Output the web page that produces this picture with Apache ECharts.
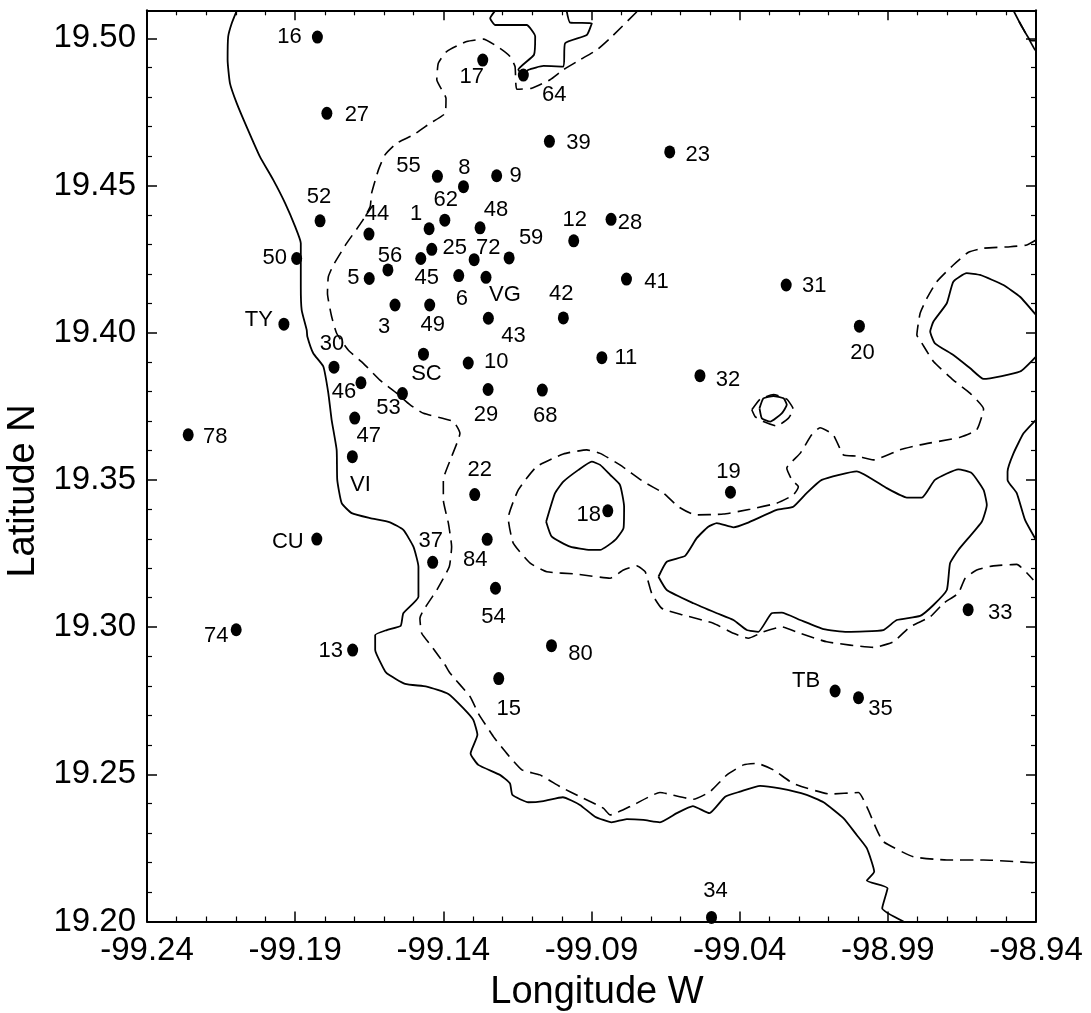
<!DOCTYPE html>
<html>
<head>
<meta charset="utf-8">
<style>html,body{margin:0;padding:0;background:#fff}#c{width:1091px;height:1013px}</style>
<script src="https://cdn.jsdelivr.net/npm/echarts@6/dist/echarts.min.js"></script>
</head>
<body>
<div id="c"></div>
<script>
const stationNames = ['16','17','64','27','39','23','55','8','9','52','62','1','48','44','12','28','25','45','72','59','50','56','5','6','VG','41','31','3','49','43','42','TY','20','SC','10','11','30','46','53','29','68','32','47','78','VI','22','19','18','CU','84','37','54','33','74','80','13','15','TB','35','34'];
const stationLon = [-99.1825,-99.1267,-99.1130,-99.1793,-99.1042,-99.0636,-99.1420,-99.1332,-99.1220,-99.1816,-99.1395,-99.1448,-99.1276,-99.1651,-99.0960,-99.0834,-99.1439,-99.1476,-99.1296,-99.1178,-99.1895,-99.1587,-99.1650,-99.1348,-99.1256,-99.0782,-99.0243,-99.1563,-99.1446,-99.1248,-99.0995,-99.1938,-98.9996,-99.1467,-99.1316,-99.0865,-99.1769,-99.1678,-99.1538,-99.1249,-99.1066,-99.0534,-99.1699,-99.2261,-99.1707,-99.1294,-99.0431,-99.0845,-99.1827,-99.1252,-99.1436,-99.1224,-98.9629,-99.2099,-99.1035,-99.1706,-99.1213,-99.0078,-98.9999,-99.0495];
const stationLat = [19.5004,19.4926,19.4875,19.4745,19.4650,19.4614,19.4531,19.4496,19.4533,19.4380,19.4382,19.4353,19.4356,19.4335,19.4312,19.4385,19.4283,19.4252,19.4248,19.4254,19.4252,19.4213,19.4184,19.4194,19.4188,19.4182,19.4162,19.4094,19.4094,19.4049,19.4050,19.4029,19.4022,19.3927,19.3897,19.3915,19.3883,19.3830,19.3793,19.3807,19.3805,19.3854,19.3710,19.3653,19.3579,19.3450,19.3458,19.3395,19.3299,19.3298,19.3220,19.3132,19.3059,19.2991,19.2937,19.2922,19.2825,19.2783,19.2760,19.2014];

const westShore = [[-99.2097,19.5094],[-99.2114,19.5051],[-99.2126,19.5006],[-99.2128,19.4927],[-99.2120,19.4847],[-99.2097,19.4779],[-99.2064,19.4700],[-99.2019,19.4598],[-99.1974,19.4519],[-99.1934,19.4440],[-99.1900,19.4360],[-99.1881,19.4304],[-99.1881,19.4156],[-99.1878,19.4077],[-99.1861,19.4009],[-99.1859,19.3987],[-99.1839,19.3930],[-99.1805,19.3885],[-99.1788,19.3794],[-99.1777,19.3704],[-99.1760,19.3602],[-99.1758,19.3500],[-99.1743,19.3421],[-99.1709,19.3387],[-99.1647,19.3370],[-99.1580,19.3356],[-99.1535,19.3330],[-99.1501,19.3273],[-99.1484,19.3205],[-99.1484,19.3103],[-99.1535,19.3047],[-99.1544,19.3004],[-99.1591,19.2990],[-99.1630,19.2973],[-99.1630,19.2922],[-99.1602,19.2860],[-99.1591,19.2843],[-99.1529,19.2807],[-99.1456,19.2798],[-99.1383,19.2773],[-99.1332,19.2724],[-99.1299,19.2685],[-99.1285,19.2634],[-99.1308,19.2571],[-99.1282,19.2532],[-99.1209,19.2498],[-99.1175,19.2469],[-99.1167,19.2430],[-99.1113,19.2405],[-99.1062,19.2409],[-99.0997,19.2422],[-99.0939,19.2396],[-99.0888,19.2356],[-99.0832,19.2337],[-99.0781,19.2348],[-99.0725,19.2345],[-99.0669,19.2337],[-99.0612,19.2368],[-99.0558,19.2392],[-99.0502,19.2368],[-99.0449,19.2424],[-99.0399,19.2441],[-99.0331,19.2461],[-99.0264,19.2452],[-99.0174,19.2430],[-99.0117,19.2405],[-99.0050,19.2351],[-99.0005,19.2294],[-98.9971,19.2249],[-98.9946,19.2169],[-98.9971,19.2139],[-98.9901,19.2113],[-98.9919,19.2045],[-98.9847,19.2000]];
const centralLake = [[-99.0674,19.3171],[-99.0646,19.3222],[-99.0584,19.3242],[-99.0545,19.3302],[-99.0506,19.3341],[-99.0477,19.3353],[-99.0421,19.3339],[-99.0376,19.3353],[-99.0275,19.3398],[-99.0219,19.3409],[-99.0174,19.3455],[-99.0123,19.3500],[-99.0005,19.3529],[-98.9904,19.3472],[-98.9836,19.3440],[-98.9785,19.3440],[-98.9741,19.3500],[-98.9662,19.3536],[-98.9617,19.3523],[-98.9577,19.3466],[-98.9566,19.3415],[-98.9583,19.3358],[-98.9662,19.3262],[-98.9690,19.3217],[-98.9701,19.3126],[-98.9746,19.3075],[-98.9791,19.3038],[-98.9870,19.3024],[-98.9915,19.2990],[-99.0038,19.2984],[-99.0117,19.2993],[-99.0196,19.3024],[-99.0258,19.3049],[-99.0292,19.3047],[-99.0337,19.2984],[-99.0376,19.2990],[-99.0421,19.3024],[-99.0477,19.3047],[-99.0556,19.3081],[-99.0646,19.3126],[-99.0674,19.3171]];
const hill18 = [[-99.1053,19.3358],[-99.1023,19.3455],[-99.0995,19.3494],[-99.0944,19.3534],[-99.0899,19.3562],[-99.0871,19.3551],[-99.0837,19.3517],[-99.0804,19.3483],[-99.0790,19.3409],[-99.0792,19.3336],[-99.0820,19.3296],[-99.0871,19.3262],[-99.0905,19.3262],[-99.0972,19.3273],[-99.1034,19.3307],[-99.1053,19.3358]];
const smallSolid = [[-99.0333,19.3743],[-99.0320,19.3777],[-99.0286,19.3785],[-99.0252,19.3777],[-99.0241,19.3755],[-99.0258,19.3726],[-99.0297,19.3698],[-99.0325,19.3709],[-99.0333,19.3743]];
const smallDashed = [[-99.0359,19.3738],[-99.0331,19.3774],[-99.0286,19.3790],[-99.0241,19.3774],[-99.0219,19.3740],[-99.0236,19.3709],[-99.0275,19.3683],[-99.0320,19.3698],[-99.0348,19.3715],[-99.0359,19.3738]];
const northIsland = [[-99.1225,19.5094],[-99.1242,19.5068],[-99.1225,19.5045],[-99.1119,19.5045],[-99.1090,19.5006],[-99.1094,19.4944],[-99.1147,19.4893],[-99.1130,19.4875],[-99.1113,19.4893],[-99.1062,19.4906],[-99.0995,19.4904],[-99.0989,19.4983],[-99.0916,19.5011],[-99.0899,19.5051],[-99.0972,19.5053],[-99.0984,19.5094]];
const cornerSolid = [[-98.9476,19.5094],[-98.9448,19.5040],[-98.9420,19.4994],[-98.9400,19.4992]];
const cornerDashed = [[-98.9457,19.5057],[-98.9410,19.4972],[-98.9400,19.4954]];
const eastLake = [[-98.9400,19.3919],[-98.9454,19.3868],[-98.9577,19.3843],[-98.9622,19.3879],[-98.9679,19.3924],[-98.9741,19.3964],[-98.9757,19.4004],[-98.9746,19.4038],[-98.9701,19.4100],[-98.9679,19.4173],[-98.9634,19.4202],[-98.9589,19.4196],[-98.9510,19.4162],[-98.9454,19.4122],[-98.9400,19.4060]];
const eastEdge = [[-98.9400,19.3704],[-98.9442,19.3658],[-98.9476,19.3590],[-98.9496,19.3528],[-98.9496,19.3500],[-98.9465,19.3455],[-98.9437,19.3364],[-98.9400,19.3296]];
const westDashed = [[-99.0747,19.5090],[-99.0837,19.5000],[-99.0882,19.4960],[-99.0939,19.4927],[-99.0995,19.4893],[-99.1040,19.4859],[-99.1102,19.4830],[-99.1152,19.4827],[-99.1158,19.4904],[-99.1175,19.4938],[-99.1209,19.4966],[-99.1265,19.4997],[-99.1321,19.4989],[-99.1389,19.4955],[-99.1417,19.4915],[-99.1422,19.4859],[-99.1391,19.4796],[-99.1394,19.4745],[-99.1445,19.4711],[-99.1501,19.4672],[-99.1557,19.4644],[-99.1597,19.4604],[-99.1619,19.4553],[-99.1642,19.4474],[-99.1647,19.4428],[-99.1675,19.4377],[-99.1726,19.4304],[-99.1771,19.4230],[-99.1788,19.4190],[-99.1791,19.4134],[-99.1777,19.4055],[-99.1760,19.3998],[-99.1721,19.3941],[-99.1670,19.3896],[-99.1614,19.3839],[-99.1557,19.3794],[-99.1512,19.3755],[-99.1467,19.3726],[-99.1366,19.3698],[-99.1344,19.3658],[-99.1372,19.3579],[-99.1400,19.3500],[-99.1400,19.3432],[-99.1383,19.3353],[-99.1372,19.3273],[-99.1380,19.3205],[-99.1422,19.3126],[-99.1479,19.3030],[-99.1473,19.2979],[-99.1439,19.2934],[-99.1394,19.2871],[-99.1377,19.2843],[-99.1310,19.2764],[-99.1282,19.2707],[-99.1231,19.2628],[-99.1186,19.2571],[-99.1135,19.2515],[-99.1074,19.2498],[-99.1006,19.2458],[-99.0939,19.2424],[-99.0860,19.2385],[-99.0837,19.2362],[-99.0759,19.2396],[-99.0669,19.2438],[-99.0556,19.2415],[-99.0500,19.2441],[-99.0443,19.2498],[-99.0387,19.2532],[-99.0342,19.2537],[-99.0286,19.2515],[-99.0219,19.2469],[-99.0095,19.2433],[-98.9999,19.2438],[-98.9971,19.2390],[-98.9937,19.2311],[-98.9915,19.2271],[-98.9814,19.2220],[-98.9701,19.2209],[-98.9577,19.2209],[-98.9400,19.2199]];
const centralDashed = [[-98.9400,19.4315],[-98.9431,19.4298],[-98.9487,19.4292],[-98.9577,19.4287],[-98.9628,19.4273],[-98.9679,19.4230],[-98.9735,19.4173],[-98.9768,19.4117],[-98.9791,19.4066],[-98.9802,19.3992],[-98.9785,19.3964],[-98.9746,19.3902],[-98.9679,19.3839],[-98.9622,19.3794],[-98.9577,19.3741],[-98.9600,19.3670],[-98.9656,19.3645],[-98.9791,19.3619],[-98.9859,19.3602],[-98.9949,19.3568],[-99.0005,19.3581],[-99.0050,19.3585],[-99.0084,19.3653],[-99.0129,19.3677],[-99.0157,19.3653],[-99.0196,19.3590],[-99.0241,19.3540],[-99.0224,19.3500],[-99.0202,19.3477],[-99.0219,19.3449],[-99.0275,19.3421],[-99.0365,19.3400],[-99.0455,19.3384],[-99.0550,19.3381],[-99.0607,19.3409],[-99.0657,19.3455],[-99.0725,19.3494],[-99.0804,19.3551],[-99.0871,19.3590],[-99.0916,19.3602],[-99.0995,19.3588],[-99.1085,19.3545],[-99.1147,19.3466],[-99.1181,19.3370],[-99.1164,19.3285],[-99.1107,19.3217],[-99.1051,19.3188],[-99.0950,19.3180],[-99.0837,19.3166],[-99.0792,19.3194],[-99.0747,19.3208],[-99.0719,19.3188],[-99.0697,19.3115],[-99.0663,19.3064],[-99.0590,19.3041],[-99.0489,19.3013],[-99.0421,19.2979],[-99.0371,19.2962],[-99.0320,19.2984],[-99.0258,19.3001],[-99.0196,19.2979],[-99.0106,19.2950],[-98.9949,19.2931],[-98.9881,19.2950],[-98.9825,19.3001],[-98.9757,19.3035],[-98.9712,19.3081],[-98.9662,19.3115],[-98.9639,19.3166],[-98.9600,19.3194],[-98.9544,19.3208],[-98.9465,19.3213],[-98.9409,19.3160]];

const solidLines = [westShore, centralLake, hill18, smallSolid, northIsland, cornerSolid, eastLake, eastEdge];
const dashedLines = [westDashed, centralDashed, smallDashed, cornerDashed];

// label placement relative to each station dot, in the same order as stationNames
const labelOffsets = [[-28,0],[-11,17],[31,20],[30,2],[29,2],[28,3],[-29,-10],[1,-19],[19,0],[-1,-24],[1,-20],[-13,-15],[16,-18],[8,-20],[1,-21],[19,4],[23,-1],[6,19],[14,-12],[22,-20],[-22,-1],[2,-14],[-16,-1],[3,23],[19,18],[30,3],[28,1],[-11,22],[3,20],[25,18],[-2,-24],[-25,-4],[3,27],[3,20],[28,-1],[24,0],[-2,-23],[-17,9],[-14,14],[-2,25],[3,26],[28,4],[14,18],[27,2],[8,28],[5,-25],[-2,-20],[-19,4],[-29,3],[-12,21],[-2,-21],[-2,29],[32,3],[-20,6],[29,8],[-22,1],[10,30],[-29,-10],[22,11],[4,-26]];

const FONT = '"Liberation Sans", Arial, sans-serif';
const lineSeries = (pts, dashed) => ({
  type: 'line', data: pts, symbol: 'none', silent: true, clip: true, z: 2, smooth: 0.15,
  lineStyle: {color: '#000', width: dashed ? 1.6 : 1.8, type: dashed ? [13, 7] : 'solid'}
});
const frameAxis = {
  axisLine: {show: true, onZero: false, lineStyle: {color: '#000', width: 2}},
  axisTick: {show: true, inside: true, length: 10, lineStyle: {color: '#000', width: 1.5}},
  minorTick: {show: true, splitNumber: 5, length: 5, lineStyle: {color: '#000', width: 1.2}},
  splitLine: {show: false}, minorSplitLine: {show: false}
};
const xBase = {type: 'value', min: -99.24, max: -98.94, interval: 0.05, ...frameAxis};
const yBase = {type: 'value', min: 19.2, max: 19.5095, interval: 0.05, ...frameAxis};

const chart = echarts.init(document.getElementById('c'), null, {renderer: 'canvas'});
chart.setOption({
  animation: false,
  backgroundColor: '#fff',
  grid: {left: 147, top: 10.3, width: 889, height: 911.2, containLabel: false, outerBoundsMode: 'none'},
  xAxis: [
    {...xBase, position: 'bottom', name: 'Longitude W', nameLocation: 'middle', nameGap: 52,
     nameTextStyle: {fontFamily: FONT, fontSize: 38, color: '#000', padding: [0, 0, 0, 11]},
     axisLabel: {fontFamily: FONT, fontSize: 33, color: '#000', margin: 13, hideOverlap: false, showMinLabel: true, showMaxLabel: true, formatter: v => v.toFixed(2)}},
    {...xBase, position: 'top', axisLabel: {show: false}}
  ],
  yAxis: [
    {...yBase, position: 'left', name: 'Latitude N', nameLocation: 'middle', nameGap: 101, nameRotate: 90,
     nameTextStyle: {fontFamily: FONT, fontSize: 38, color: '#000', padding: [0, 50, 0, 0]},
     axisLabel: {fontFamily: FONT, fontSize: 33, color: '#000', margin: 11, padding: [4, 0, 0, 0], hideOverlap: false, showMinLabel: true, showMaxLabel: false, formatter: v => v.toFixed(2)}},
    {...yBase, position: 'right', axisLabel: {show: false}}
  ],
  series: [
    ...solidLines.map(p => lineSeries(p, false)),
    ...dashedLines.map(p => lineSeries(p, true)),
    {
      type: 'scatter', clip: false, z: 5, symbol: 'circle', symbolSize: [11, 13],
      itemStyle: {color: '#000', opacity: 1},
      label: {show: true, position: 'inside', fontFamily: FONT, fontSize: 22, color: '#000', padding: [3, 0, 0, 0], formatter: p => p.data.name},
      data: stationNames.map((name, i) => ({
        name, value: [stationLon[i], stationLat[i]],
        label: {offset: labelOffsets[i]}
      }))
    }
  ]
});
</script>
</body>
</html>
